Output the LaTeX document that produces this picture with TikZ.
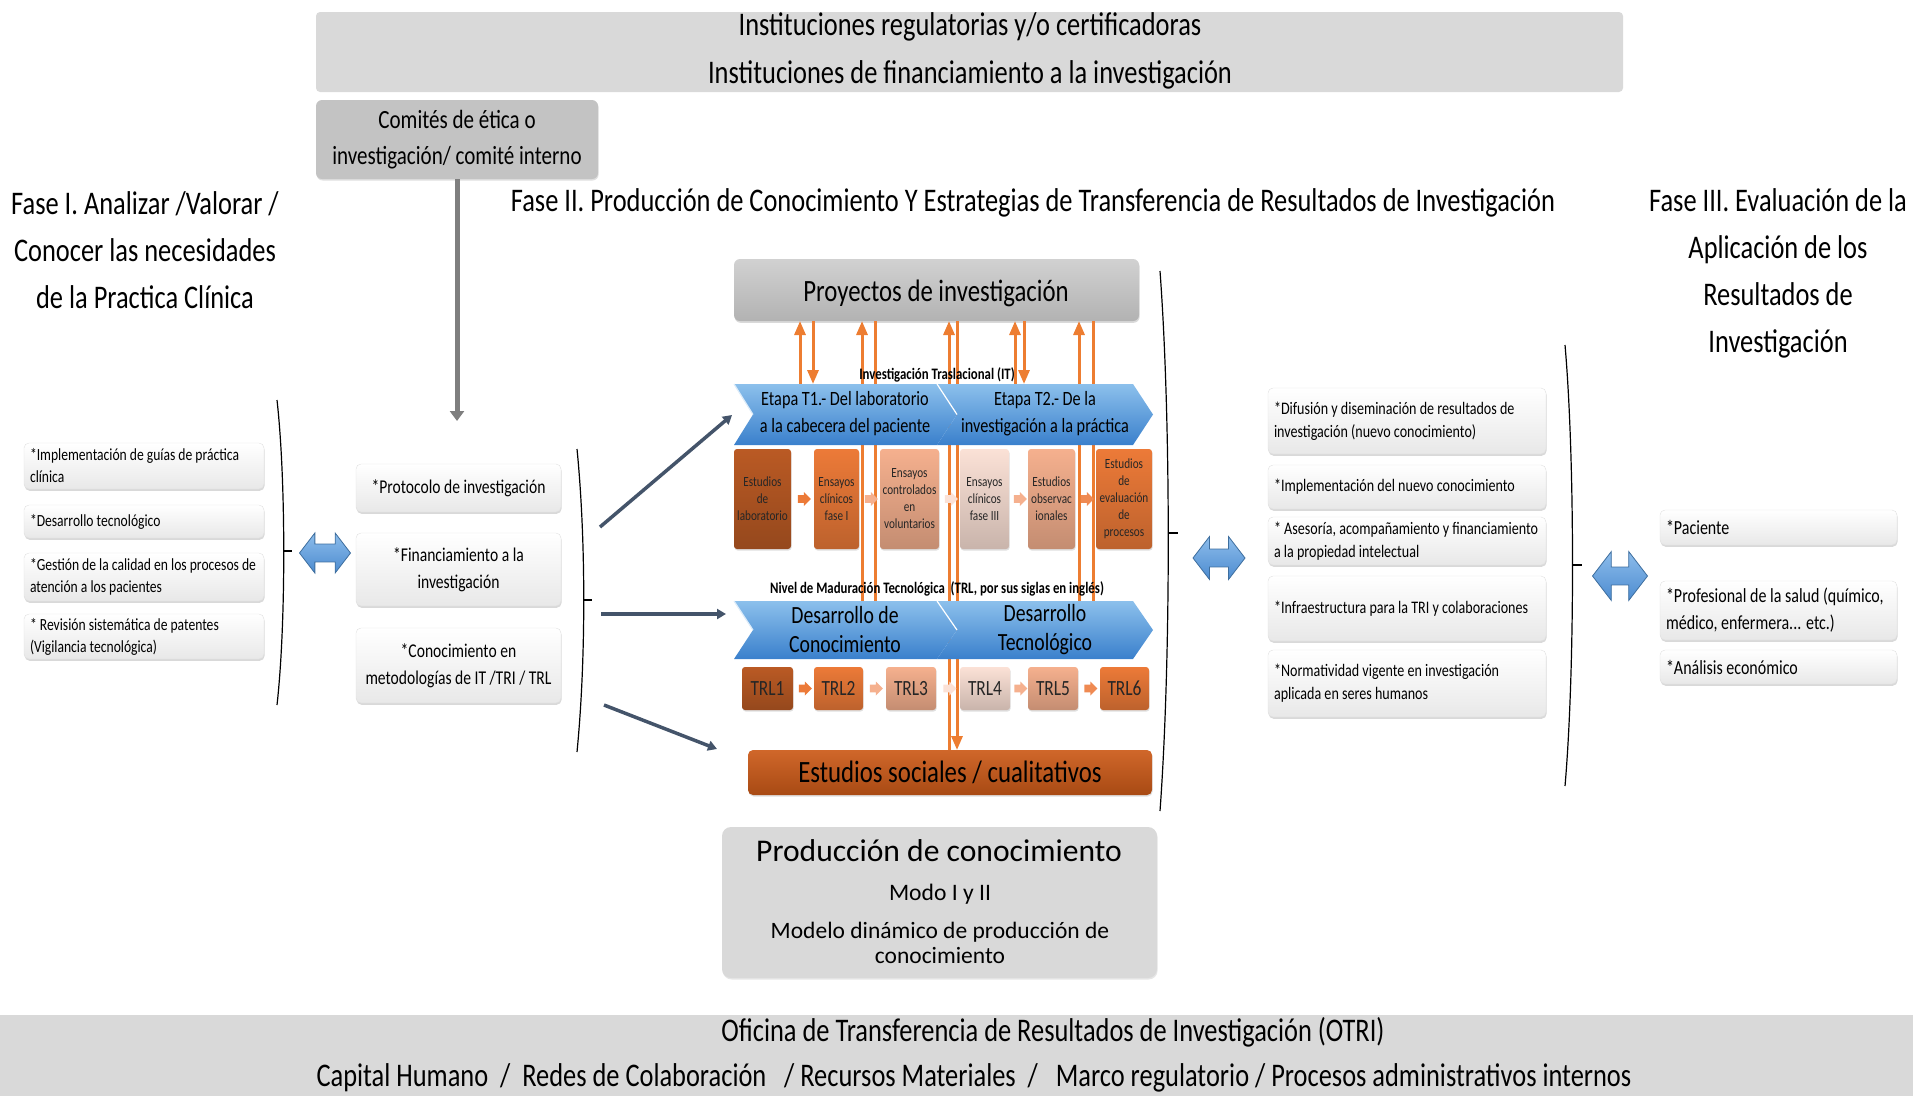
\documentclass[tikz,border=0pt]{standalone}
\usepackage{fontspec}
\setmainfont{Carlito}[FakeStretch=0.8]
\newfontfamily\widefont{Carlito}
\usetikzlibrary{shapes.arrows,shadows,arrows.meta,calc}
\newcommand\fsz[2]{\fontsize{#1}{#2}\selectfont}
\definecolor{panelgray}{HTML}{D9D9D9}
\definecolor{midgray}{HTML}{C3C3C3}
\definecolor{slate}{HTML}{44546A}
\definecolor{pipe}{HTML}{7F7F7F}
\definecolor{flow}{HTML}{ED7D31}
\definecolor{ordark}{HTML}{BA5A24}
\definecolor{ormid}{HTML}{EC7A38}
\definecolor{orlight}{HTML}{F5B08E}
\definecolor{orpale}{HTML}{FBE1D6}
\definecolor{socialtop}{HTML}{D0672A}
\definecolor{socialbot}{HTML}{A84A14}
\definecolor{bandtop}{HTML}{8CC0EC}
\definecolor{bandbot}{HTML}{3A80CC}
\definecolor{dbltop}{HTML}{8DBDEB}
\definecolor{dblbot}{HTML}{4C8BD0}
\definecolor{dbldraw}{HTML}{3E6E9E}
\begin{document}
\begin{tikzpicture}[x=1pt,y=-1pt,
  every node/.style={inner sep=0pt, outer sep=0pt},
  panel/.style={fill=panelgray, rounded corners=6pt, anchor=north west},
  card/.style={draw=black!12, line width=0.4pt, rounded corners=5pt,
    top color=white, bottom color=black!9,
    drop shadow={opacity=0.3, shadow xshift=0.6pt, shadow yshift=-1.8pt},
    anchor=north west},
  lcard/.style={card, minimum width=240pt},
  mcard/.style={card, minimum width=205pt, align=center, font=\fsz{19.5}{27}},
  rcard/.style={card, minimum width=278pt},
  pcard/.style={card, minimum width=237pt},
  ltext/.style={anchor=west, align=left, font=\fsz{17}{22}},
  rtext/.style={anchor=west, align=left, font=\fsz{17.6}{23}},
  ptext/.style={anchor=west, align=left, font=\fsz{20}{27}},
  obox/.style 2 args={top color=#1, bottom color=#2, rounded corners=3pt,
    anchor=north west, align=center, text=black!85,
    drop shadow={opacity=0.25, shadow xshift=0.6pt, shadow yshift=-1.5pt}},
  stage/.style={obox={#1}{#1!80!black}, minimum height=100pt, font=\fsz{14}{17}},
  trl/.style={obox={#1}{#1!80!black}, minimum height=43pt, font=\fsz{21.7}{24}},
  minarrow/.style={single arrow, fill=#1, minimum height=13pt, minimum width=14pt,
    single arrow head extend=3pt, inner sep=3.5pt},
  dbl/.style={double arrow, draw=dbldraw, line width=0.8pt, top color=dbltop, bottom color=dblbot,
    double arrow head extend=11pt, double arrow tip angle=105, inner sep=8.5pt},
  band/.style={top color=bandtop, bottom color=bandbot},
  flowline/.style={draw=flow, line width=3pt},
  flowarrow/.style={flowline, -{Triangle[width=11pt,length=14pt]}},
  feed/.style={draw=slate, line width=3.5pt, -{Triangle[width=10pt,length=9pt]}},
  brace/.style={draw=black, line width=1.2pt},
  title/.style={align=center, font=\fsz{33}{47}}
]
\useasboundingbox (0,0) rectangle (1913,1096);

% ---------- top and bottom panels ----------
\node[panel, rounded corners=4pt, minimum width=1307pt, minimum height=80pt] (inst) at (316,12) {};
\node[align=center, font=\fsz{33}{48}] (insttext) at (970,51)
  {Instituciones regulatorias y/o certificadoras\\Instituciones de financiamiento a la investigación};
\node[panel, fill=midgray, minimum width=282pt, minimum height=79pt,
  drop shadow={opacity=0.25, shadow xshift=0.6pt, shadow yshift=-1.5pt}] (comites) at (316,100) {};
\node[align=center, font=\fsz{26.3}{36}] (comitestext) at (457,140)
  {Comités de ética o\\investigación/ comité interno};
\coordinate (pipeend) at (457,421);
\draw[draw=pipe, line width=5pt, -{Triangle[width=14pt,length=10pt]}] (comites.south) -- (pipeend);

\node[panel, rounded corners=0pt, minimum width=1913pt, minimum height=81pt] (otri) at (0,1015) {};
\node[font=\fsz{33}{40}] (otritext) at (1053,1032)
  {Oficina de Transferencia de Resultados de Investigación (OTRI)};
\node[font=\fsz{33}{40}] (resources) at (974,1078)
  {Capital Humano\ \ /\ \ Redes de Colaboración\ \ \ / Recursos Materiales\ \ /\ \ \ Marco regulatorio / Procesos administrativos internos};

% ---------- phase titles ----------
\node[title] (fase1) at (145,250) {Fase I. Analizar /Valorar /\\Conocer las necesidades\\de la Practica Clínica};
\node[title] (fase2) at (1033,203) {Fase II. Producción de Conocimiento Y Estrategias de Transferencia de Resultados de Investigación};
\node[title] (fase3) at (1778,273.5) {Fase III. Evaluación de la\\Aplicación de los\\Resultados de\\Investigación};

% ---------- phase I list ----------
\node[lcard, minimum height=46pt] (l1) at (24,443) {};
\node[ltext] (l1t) at ([xshift=6pt]l1.west) {*Implementación de guías de práctica\\clínica};
\node[lcard, minimum height=33pt] (l2) at (24,505) {};
\node[ltext] (l2t) at ([xshift=6pt]l2.west) {*Desarrollo tecnológico};
\node[lcard, minimum height=48pt] (l3) at (24,553) {};
\node[ltext] (l3t) at ([xshift=6pt]l3.west) {*Gestión de la calidad en los procesos de\\atención a los pacientes};
\node[lcard, minimum height=45pt] (l4) at (24,614) {};
\node[ltext] (l4t) at ([xshift=6pt]l4.west) {* Revisión sistemática de patentes\\(Vigilancia tecnológica)};
\draw[brace] (277,400) .. controls (286,480) and (286,625) .. (277,705);
\draw[brace] (284,551) -- (292,551);
\node[dbl, minimum height=51pt, minimum width=40pt] (dbl1) at (325,553) {};

% ---------- inputs ----------
\node[mcard, minimum height=48pt] (m1) at (356,464) {*Protocolo de investigación};
\node[mcard, minimum height=73pt] (m2) at (356,533) {*Financiamiento a la\\investigación};
\node[mcard, minimum height=75pt] (m3) at (356,628) {*Conocimiento en\\metodologías de IT /TRI / TRL};
\draw[brace] (577,449) .. controls (586,540) and (586,660) .. (577,752);
\draw[brace] (584,600) -- (592,600);

% ---------- core block ----------
\node[rounded corners=6pt, anchor=north west, minimum width=405pt, minimum height=62pt,
  top color=black!18, bottom color=black!30,
  drop shadow={opacity=0.3, shadow xshift=0.6pt, shadow yshift=-1.8pt}] (proy) at (734,259) {};
\node[font=\fsz{31}{36}] (proytext) at (936,293) {Proyectos de investigación};
\node[anchor=north west, minimum width=419pt, minimum height=61pt] (etapa) at (734,384) {};
\node[anchor=north west, minimum width=419pt, minimum height=58pt] (trlbar) at (734,601) {};
\node[obox={socialtop}{socialbot}, rounded corners=5pt, minimum width=404pt, minimum height=45pt,
  font=\fsz{31}{36}, text=black] (social) at (748,750) {Estudios sociales / cualitativos};

% feedback lines between the projects and the stages
\coordinate (v1) at (800,0);  \coordinate (v2) at (813,0);
\coordinate (v3) at (862,0);  \coordinate (v4) at (875,0);
\coordinate (v5) at (949,0);  \coordinate (v6) at (957,0);
\coordinate (v7) at (1015,0); \coordinate (v8) at (1024,0);
\coordinate (v9) at (1079,0); \coordinate (v10) at (1093,0);
\draw[flowarrow] (v1 |- etapa.north) -- (v1 |- proy.south);
\draw[flowarrow] (v2 |- proy.south) -- (v2 |- etapa.north);
\draw[flowarrow] (v3 |- trlbar.north) -- (v3 |- proy.south);
\draw[flowline]  (v4 |- proy.south) -- (v4 |- trlbar.north);
\draw[flowarrow] (v5 |- social.north) -- (v5 |- proy.south);
\draw[flowarrow] (v6 |- proy.south) -- (v6 |- social.north);
\draw[flowarrow] (v7 |- etapa.north) -- (v7 |- proy.south);
\draw[flowarrow] (v8 |- proy.south) -- (v8 |- etapa.north);
\draw[flowarrow] (v9 |- trlbar.north) -- (v9 |- proy.south);
\draw[flowline]  (v10 |- proy.south) -- (v10 |- trlbar.north);

% translational research chevrons
\path[band] (937,384) -- (1133,384) -- (1153,414.5) -- (1133,445) -- (937,445) -- (957,414.5) -- cycle;
\path[band] (734,384) -- (937,384) -- (957,414.5) -- (937,445) -- (734,445) -- (753,414.5) -- cycle;
\draw[white, line width=1.2pt] (937,384) -- (957,414.5);
\draw[white!70!bandtop, line width=1.2pt] (734,384) -- (753,414.5);
\node[font=\bfseries\fsz{16}{18}] (itlabel) at (937,375) {Investigación Traslacional (IT)};
\node[align=center, font=\fsz{20.3}{27}] (t1) at (845,414) {Etapa T1.- Del laboratorio\\a la cabecera del paciente};
\node[align=center, font=\fsz{20.3}{27}] (t2) at (1045,414) {Etapa T2.- De la\\investigación a la práctica};

% study types
\node[stage=ordark,  minimum width=57pt] (s1) at (734,449)  {Estudios\\de\\laboratorio};
\node[stage=ormid,   minimum width=45pt] (s2) at (814,449)  {Ensayos\\clínicos\\fase I};
\node[stage=orlight, minimum width=59pt] (s3) at (880,449)  {Ensayos\\controlados\\en\\voluntarios};
\node[stage=orpale,  minimum width=49pt] (s4) at (960,449)  {Ensayos\\clínicos\\fase III};
\node[stage=orlight, minimum width=47pt] (s5) at (1028,449) {Estudios\\observac\\ionales};
\node[stage=ormid,   minimum width=56pt] (s6) at (1096,449) {Estudios\\de\\evaluación\\de\\procesos};
\node[minarrow=ormid]   (sa1) at ($(s1.east)!0.5!(s2.west)$) {};
\node[minarrow=orlight] (sa2) at ($(s2.east)!0.5!(s3.west)$) {};
\node[minarrow=orpale]  (sa3) at ($(s3.east)!0.5!(s4.west)$) {};
\node[minarrow=orlight] (sa4) at ($(s4.east)!0.5!(s5.west)$) {};
\node[minarrow=ormid!70!orlight] (sa5) at ($(s5.east)!0.5!(s6.west)$) {};

% technology readiness chevrons
\path[band] (937,601) -- (1133,601) -- (1153,630) -- (1133,659) -- (937,659) -- (957,630) -- cycle;
\path[band] (734,601) -- (937,601) -- (957,630) -- (937,659) -- (734,659) -- (753,630) -- cycle;
\draw[white, line width=1.2pt] (937,601) -- (957,630);
\draw[white!70!bandtop, line width=1.2pt] (734,601) -- (753,630);
\node[font=\bfseries\fsz{16}{18}] (nllabel) at (937,589) {Nivel de Maduración Tecnológica\ \ (TRL, por sus siglas en inglés)};
\node[align=center, font=\fsz{24.7}{29}] (d1) at (845,630) {Desarrollo de\\Conocimiento};
\node[align=center, font=\fsz{24.7}{29}] (d2) at (1045,630) {Desarrollo\\Tecnológico};

% readiness levels
\node[trl=ordark,  minimum width=51pt] (r1) at (742,667)  {TRL1};
\node[trl=ormid,   minimum width=49pt] (r2) at (814,667)  {TRL2};
\node[trl=orlight, minimum width=50pt] (r3) at (886,667)  {TRL3};
\node[trl=orpale,  minimum width=50pt] (r4) at (960,667)  {TRL4};
\node[trl=orlight, minimum width=50pt] (r5) at (1028,667) {TRL5};
\node[trl=ormid,   minimum width=49pt] (r6) at (1100,667) {TRL6};
\node[minarrow=ormid]   (ra1) at ($(r1.east)!0.5!(r2.west)$) {};
\node[minarrow=orlight] (ra2) at ($(r2.east)!0.5!(r3.west)$) {};
\node[minarrow=orpale]  (ra3) at ($(r3.east)!0.5!(r4.west)$) {};
\node[minarrow=orlight] (ra4) at ($(r4.east)!0.5!(r5.west)$) {};
\node[minarrow=ormid!70!orlight] (ra5) at ($(r5.east)!0.5!(r6.west)$) {};

% inputs feeding the core block
\coordinate (f1) at (600,527); \coordinate (f2) at (601,614); \coordinate (f3) at (604,705);
\coordinate (g1) at (732,415); \coordinate (g2) at (726,614); \coordinate (g3) at (717,749);
\draw[feed] (f1) -- (g1);
\draw[feed] (f2) -- (g2);
\draw[feed] (f3) -- (g3);

\draw[brace] (1160,271) .. controls (1171,420) and (1171,660) .. (1160,811);
\draw[brace] (1169,533) -- (1178,533);

% knowledge production
\node[panel, rounded corners=9pt, minimum width=435pt, minimum height=151pt,
  drop shadow={opacity=0.2, shadow xshift=0.6pt, shadow yshift=-1.5pt}] (prod) at (722,827) {};
\node[font=\widefont\fsz{31.6}{36}] (prodtitle) at (939,851) {Producción de conocimiento};
\node[font=\widefont\fsz{23.6}{27}] (prodmode) at (940,894) {Modo I y II};
\node[align=center, font=\widefont\fsz{23.5}{25}] (prodmodel) at (940,942.5) {Modelo dinámico de producción de\\conocimiento};

% ---------- phase II transfer strategies ----------
\node[dbl, minimum height=52pt, minimum width=43pt, double arrow head extend=12.5pt] (dbl2) at (1219,558) {};
\node[rcard, minimum height=66pt] (t1c) at (1268,388) {};
\node[rtext] (t1t) at ([xshift=6pt]t1c.west) {*Difusión y diseminación de resultados de\\investigación (nuevo conocimiento)};
\node[rcard, minimum height=44pt] (t2c) at (1268,465) {};
\node[rtext] (t2t) at ([xshift=6pt]t2c.west) {*Implementación del nuevo conocimiento};
\node[rcard, minimum height=48pt] (t3c) at (1268,517) {};
\node[rtext] (t3t) at ([xshift=6pt]t3c.west) {* Asesoría, acompañamiento y financiamiento\\a la propiedad intelectual};
\node[rcard, minimum height=65pt] (t4c) at (1268,576) {};
\node[rtext] (t4t) at ([xshift=6pt]t4c.west) {*Infraestructura para la TRI y colaboraciones};
\node[rcard, minimum height=67pt] (t5c) at (1268,650) {};
\node[rtext] (t5t) at ([xshift=6pt]t5c.west) {*Normatividad vigente en investigación\\aplicada en seres humanos};
\draw[brace] (1565,345) .. controls (1575,460) and (1575,670) .. (1565,786);
\draw[brace] (1573,565) -- (1582,565);

% ---------- phase III ----------
\node[dbl, minimum height=55pt, minimum width=49pt, double arrow head extend=15.5pt] (dbl3) at (1620,576) {};
\node[pcard, minimum height=35pt] (p1) at (1660,510) {};
\node[ptext] (p1t) at ([xshift=6pt]p1.west) {*Paciente};
\node[pcard, minimum height=59pt] (p2) at (1660,581) {};
\node[ptext] (p2t) at ([xshift=6pt]p2.west) {*Profesional de la salud (químico,\\médico, enfermera... etc.)};
\node[pcard, minimum height=34pt] (p3) at (1660,650) {};
\node[ptext] (p3t) at ([xshift=6pt]p3.west) {*Análisis económico};
\end{tikzpicture}
\end{document}
